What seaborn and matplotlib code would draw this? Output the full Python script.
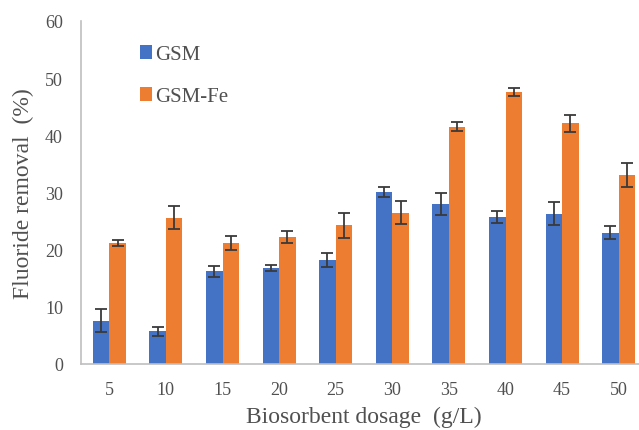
import matplotlib
matplotlib.use("Agg")
import matplotlib.pyplot as plt
import seaborn as sns
import pandas as pd
import numpy as np

dosage = ["5", "10", "15", "20", "25", "30", "35", "40", "45", "50"]
gsm = [7.6, 5.7, 16.2, 16.8, 18.2, 30.1, 28.0, 25.7, 26.3, 23.0]
gsm_err = [2.0, 0.8, 0.9, 0.5, 1.2, 0.8, 2.0, 1.0, 2.0, 1.1]
gsmfe = [21.2, 25.6, 21.2, 22.2, 24.3, 26.5, 41.5, 47.5, 42.1, 33.0]
gsmfe_err = [0.5, 2.0, 1.2, 1.0, 2.2, 2.0, 0.8, 0.7, 1.5, 2.1]
series = ["GSM", "GSM-Fe"]
colors = ["#4472C4", "#ED7D31"]

df = pd.DataFrame({
    "dosage": dosage * 2,
    "value": gsm + gsmfe,
    "err": gsm_err + gsmfe_err,
    "series": [series[0]] * len(dosage) + [series[1]] * len(dosage),
})

sns.set_theme(style="white")
plt.rcParams["font.family"] = ["Liberation Serif", "DejaVu Serif"]

fig = plt.figure(figsize=(6.39, 4.31), dpi=100)
W, H = 639, 431
left, right, top, bottom = 81, 647, 22, 365
ax = fig.add_axes([left / W, 1 - bottom / H, (right - left) / W, (bottom - top) / H])

sns.barplot(data=df, x="dosage", y="value", hue="series", order=dosage,
            hue_order=series, palette=colors, width=0.58, gap=0,
            errorbar=None, saturation=1, ax=ax, linewidth=0)

# error bars at bar centres
for cont, s in zip(ax.containers, series):
    sub = df[df.series == s]
    xs = [p.get_x() + p.get_width() / 2 for p in cont.patches]
    ax.errorbar(xs, sub["value"].values, yerr=sub["err"].values, fmt="none",
                ecolor="#3a3a3a", elinewidth=1.3, capsize=4, capthick=1.3)

ax.set_ylim(0, 60)
ax.set_yticks(range(0, 61, 10))
ax.set_xlim(-0.5, len(dosage) - 0.5)
ax.tick_params(axis="both", length=0, labelsize=13, colors="#505050")
ax.tick_params(axis="x", pad=12)
ax.tick_params(axis="y", pad=13)
for sp in ["top", "right"]:
    ax.spines[sp].set_visible(False)
for sp in ["left", "bottom"]:
    ax.spines[sp].set_color("#BFBFBF")
    ax.spines[sp].set_linewidth(1.2)

ax.set_xlabel("Biosorbent dosage\u2002(g/L)", fontsize=17, color="#505050", labelpad=6)
ax.set_ylabel("Fluoride removal\u2002(%)", fontsize=17, color="#505050", labelpad=8)

leg = ax.legend(loc="upper left", bbox_to_anchor=(0.09, 0.955), frameon=False,
                fontsize=15, handlelength=0.55, handleheight=0.65, handletextpad=0.15,
                labelspacing=1.1, borderaxespad=0)
for t in leg.get_texts():
    t.set_color("#505050")

fig.savefig("out.png", dpi=100)
